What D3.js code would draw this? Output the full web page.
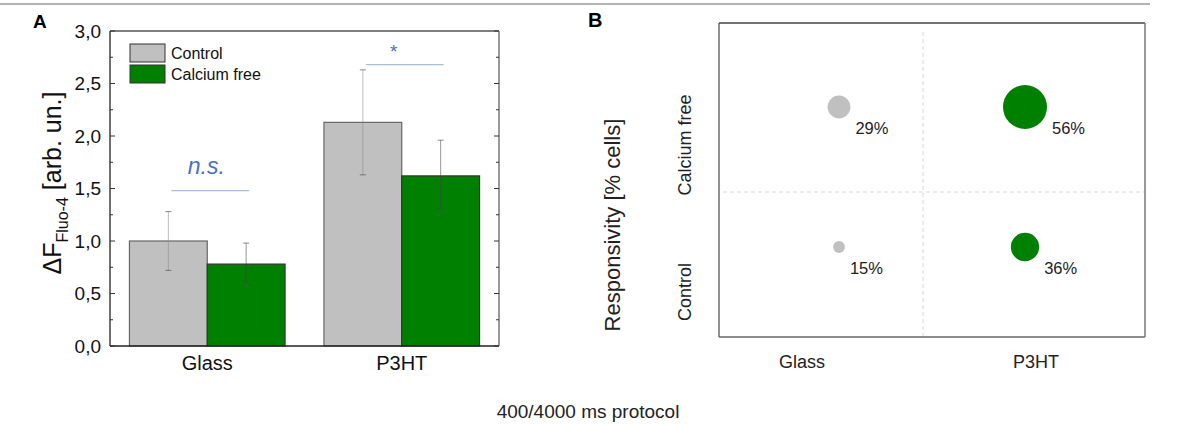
<!DOCTYPE html>
<html><head><meta charset="utf-8">
<script src="https://cdn.jsdelivr.net/npm/d3@7"></script>
<style>body{margin:0;background:#fff;}svg{display:block;font-family:"Liberation Sans",Arial,sans-serif;}</style>
</head><body>
<svg id="c" width="1182" height="425"></svg>
<script>
// ---- Data ----
const categories = ["Glass", "P3HT"];
const seriesNames = ["Control", "Calcium free"];
const controlMean = [1.0, 2.13];
const controlErr = [0.28, 0.50];
const calciumFreeMean = [0.78, 1.62];
const calciumFreeErr = [0.20, 0.34];
const yTicks = [0, 0.5, 1.0, 1.5, 2.0, 2.5, 3.0];
const yTickLabels = ["0,0", "0,5", "1,0", "1,5", "2,0", "2,5", "3,0"];
const significance = ["n.s.", "*"];
const respConditions = ["Calcium free", "Control"];
const respControl = [15, 36];      // % cells, Control condition (Glass, P3HT)
const respCalciumFree = [29, 56];  // % cells, Calcium free condition (Glass, P3HT)
const colors = ["#c0c0c0", "#008000"];

const svg = d3.select("#c");

// top rule
svg.append("line").attr("x1", 0).attr("x2", 1150).attr("y1", 4).attr("y2", 4)
  .attr("stroke", "#9a9a9a").attr("stroke-width", 1.5);

// ================= Panel A =================
const A = {l: 110, r: 499, t: 31, b: 346};
const x0 = d3.scaleBand().domain(categories).range([A.l, A.r]).paddingInner(0).paddingOuter(0);
const x1 = d3.scaleBand().domain(seriesNames).range([0, x0.bandwidth()]).paddingOuter(0.25).paddingInner(0);
const y = d3.scaleLinear().domain([0, 3]).range([A.b, A.t]);

const gA = svg.append("g");
const series = [
  {name: seriesNames[0], mean: controlMean, err: controlErr, color: colors[0]},
  {name: seriesNames[1], mean: calciumFreeMean, err: calciumFreeErr, color: colors[1]}
];
series.forEach((s, si) => {
  categories.forEach((c, ci) => {
    const xl = x0(c) + x1(s.name);
    const w = x1.bandwidth();
    gA.append("rect").attr("x", xl).attr("y", y(s.mean[ci]))
      .attr("width", w).attr("height", y(0) - y(s.mean[ci]))
      .attr("fill", s.color).attr("stroke", si === 0 ? "#666" : "#333").attr("stroke-width", 1.2);
  });
});
// error bars
series.forEach((s, si) => {
  categories.forEach((c, ci) => {
    const cx = x0(c) + x1(s.name) + x1.bandwidth() / 2;
    const hi = s.mean[ci] + s.err[ci], lo = s.mean[ci] - s.err[ci];
    gA.append("line").attr("x1", cx).attr("x2", cx).attr("y1", y(hi)).attr("y2", y(lo))
      .attr("stroke", si === 0 ? "#888" : "#444").attr("stroke-opacity", 0.55).attr("stroke-width", 1);
    [hi, lo].forEach(v => {
      gA.append("line").attr("x1", cx - 3).attr("x2", cx + 3).attr("y1", y(v)).attr("y2", y(v))
        .attr("stroke", "#555").attr("stroke-opacity", 0.7).attr("stroke-width", 1);
    });
  });
});

// frame
gA.append("line").attr("x1", A.l).attr("x2", A.r).attr("y1", A.t).attr("y2", A.t).attr("stroke", "#555").attr("stroke-width", 1.3);
gA.append("line").attr("x1", A.r).attr("x2", A.r).attr("y1", A.t).attr("y2", A.b).attr("stroke", "#777").attr("stroke-width", 1.5);
gA.append("line").attr("x1", A.l).attr("x2", A.l).attr("y1", A.t).attr("y2", A.b).attr("stroke", "#222").attr("stroke-width", 1.3);
gA.append("line").attr("x1", A.l).attr("x2", A.r).attr("y1", A.b).attr("y2", A.b).attr("stroke", "#222").attr("stroke-width", 1.3);

// ticks (inward), left and right
const minor = d3.range(0.25, 3, 0.5);
yTicks.forEach(t => {
  gA.append("line").attr("x1", A.l).attr("x2", A.l + 5).attr("y1", y(t)).attr("y2", y(t)).attr("stroke", "#333");
  gA.append("line").attr("x1", A.r).attr("x2", A.r - 5).attr("y1", y(t)).attr("y2", y(t)).attr("stroke", "#333");
});
minor.forEach(t => {
  gA.append("line").attr("x1", A.l).attr("x2", A.l + 3).attr("y1", y(t)).attr("y2", y(t)).attr("stroke", "#333");
  gA.append("line").attr("x1", A.r).attr("x2", A.r - 3).attr("y1", y(t)).attr("y2", y(t)).attr("stroke", "#333");
});
yTicks.forEach((t, i) => {
  gA.append("text").attr("x", A.l - 9).attr("y", y(t)).attr("dy", "0.35em")
    .attr("text-anchor", "end").attr("font-size", 19).attr("fill", "#111").text(yTickLabels[i]);
});
categories.forEach(c => {
  gA.append("text").attr("x", x0(c) + x0.bandwidth() / 2).attr("y", 370)
    .attr("text-anchor", "middle").attr("font-size", 20).attr("fill", "#111").text(c);
});

// y title
const yt = gA.append("text").attr("transform", `translate(61,183) rotate(-90)`)
  .attr("text-anchor", "middle").attr("font-size", 25).attr("fill", "#111");
yt.append("tspan").text("ΔF");
yt.append("tspan").attr("font-size", 16).attr("dy", 7).text("Fluo-4");
yt.append("tspan").attr("dy", -7).text(" [arb. un.]");

// panel letter
svg.append("text").attr("x", 33).attr("y", 28).attr("font-size", 19).attr("font-weight", "bold").text("A");

// legend
const leg = gA.append("g");
seriesNames.forEach((n, i) => {
  leg.append("rect").attr("x", 130).attr("y", 44 + i * 21).attr("width", 35).attr("height", 18)
    .attr("fill", colors[i]).attr("stroke", "#333").attr("stroke-width", 1);
  leg.append("text").attr("x", 171).attr("y", 59 + i * 21).attr("font-size", 16).attr("fill", "#111").text(n);
});

// significance
const sigColor = "#4a6fbf";
const sigTop = [Math.max(controlMean[0] + controlErr[0], calciumFreeMean[0] + calciumFreeErr[0]) + 0.2,
                Math.max(controlMean[1] + controlErr[1], calciumFreeMean[1] + calciumFreeErr[1]) + 0.05];
categories.forEach((c, ci) => {
  const xa = x0(c) + x1(seriesNames[0]) + x1.bandwidth() / 2 + 3;
  const xb = x0(c) + x1(seriesNames[1]) + x1.bandwidth() / 2 + 3;
  gA.append("line").attr("x1", xa).attr("x2", xb).attr("y1", y(sigTop[ci])).attr("y2", y(sigTop[ci]))
    .attr("stroke", "#a9bedb").attr("stroke-width", 1.2);
  gA.append("text").attr("x", (xa + xb) / 2 + (ci === 0 ? -4 : -11)).attr("y", y(sigTop[ci]) - (ci === 0 ? 17 : 7))
    .attr("text-anchor", "middle").attr("font-size", ci === 0 ? 23 : 19)
    .attr("font-style", ci === 0 ? "italic" : "normal").attr("fill", sigColor).text(significance[ci]);
});

// ================= Panel B =================
const B = {l: 719, r: 1145, t: 23, b: 337};
const bx = d3.scalePoint().domain(categories).range([839, 1025]);
const bxLabel = d3.scalePoint().domain(categories).range([802, 1036]);
const by = d3.scalePoint().domain(respConditions).range([107, 247]);
const rScale = d3.scaleLinear().domain([0, 56]).range([0, 22]);
const gB = svg.append("g");

// dashed dividers
gB.append("line").attr("x1", 923).attr("x2", 923).attr("y1", B.t + 9).attr("y2", B.b)
  .attr("stroke", "#d8d8d8").attr("stroke-dasharray", "4,3");
gB.append("line").attr("x1", B.l + 4).attr("x2", B.r).attr("y1", 192).attr("y2", 192)
  .attr("stroke", "#d8d8d8").attr("stroke-dasharray", "4,3");

// frame
gB.append("line").attr("x1", B.l).attr("x2", B.r).attr("y1", B.t).attr("y2", B.t).attr("stroke", "#444").attr("stroke-width", 1.3);
gB.append("line").attr("x1", B.l).attr("x2", B.l).attr("y1", B.t).attr("y2", B.b).attr("stroke", "#555").attr("stroke-width", 1.3);
gB.append("line").attr("x1", B.l).attr("x2", B.r).attr("y1", B.b).attr("y2", B.b).attr("stroke", "#666").attr("stroke-width", 1.5);
gB.append("line").attr("x1", B.r).attr("x2", B.r).attr("y1", B.t).attr("y2", B.b).attr("stroke", "#777").attr("stroke-width", 1.5);

const bubbles = [];
categories.forEach((c, ci) => {
  bubbles.push({cat: c, cond: respConditions[0], v: respCalciumFree[ci], color: colors[ci]});
  bubbles.push({cat: c, cond: respConditions[1], v: respControl[ci], color: colors[ci]});
});
bubbles.forEach(d => {
  const cx = bx(d.cat), cy = by(d.cond), r = rScale(d.v);
  gB.append("circle").attr("cx", cx).attr("cy", cy).attr("r", r).attr("fill", d.color);
  gB.append("text").attr("x", cx + r + 5).attr("y", cy + 27).attr("font-size", 16.5).attr("fill", "#222").text(d.v + "%");
});

categories.forEach(c => {
  gB.append("text").attr("x", bxLabel(c)).attr("y", 368).attr("text-anchor", "middle")
    .attr("font-size", 18).attr("fill", "#222").text(c);
});
const condCenters = [145, 292];
respConditions.forEach((c, i) => {
  gB.append("text").attr("transform", `translate(691,${condCenters[i]}) rotate(-90)`)
    .attr("text-anchor", "middle").attr("font-size", 18).attr("fill", "#222").text(c);
});
gB.append("text").attr("transform", `translate(620,225) rotate(-90)`)
  .attr("text-anchor", "middle").attr("font-size", 22).attr("fill", "#222").text("Responsivity [% cells]");
svg.append("text").attr("x", 588).attr("y", 27).attr("font-size", 20).attr("font-weight", "bold").text("B");

// footer
svg.append("text").attr("x", 588).attr("y", 418).attr("text-anchor", "middle")
  .attr("font-size", 19).attr("fill", "#222").text("400/4000 ms protocol");
</script>
</body></html>
